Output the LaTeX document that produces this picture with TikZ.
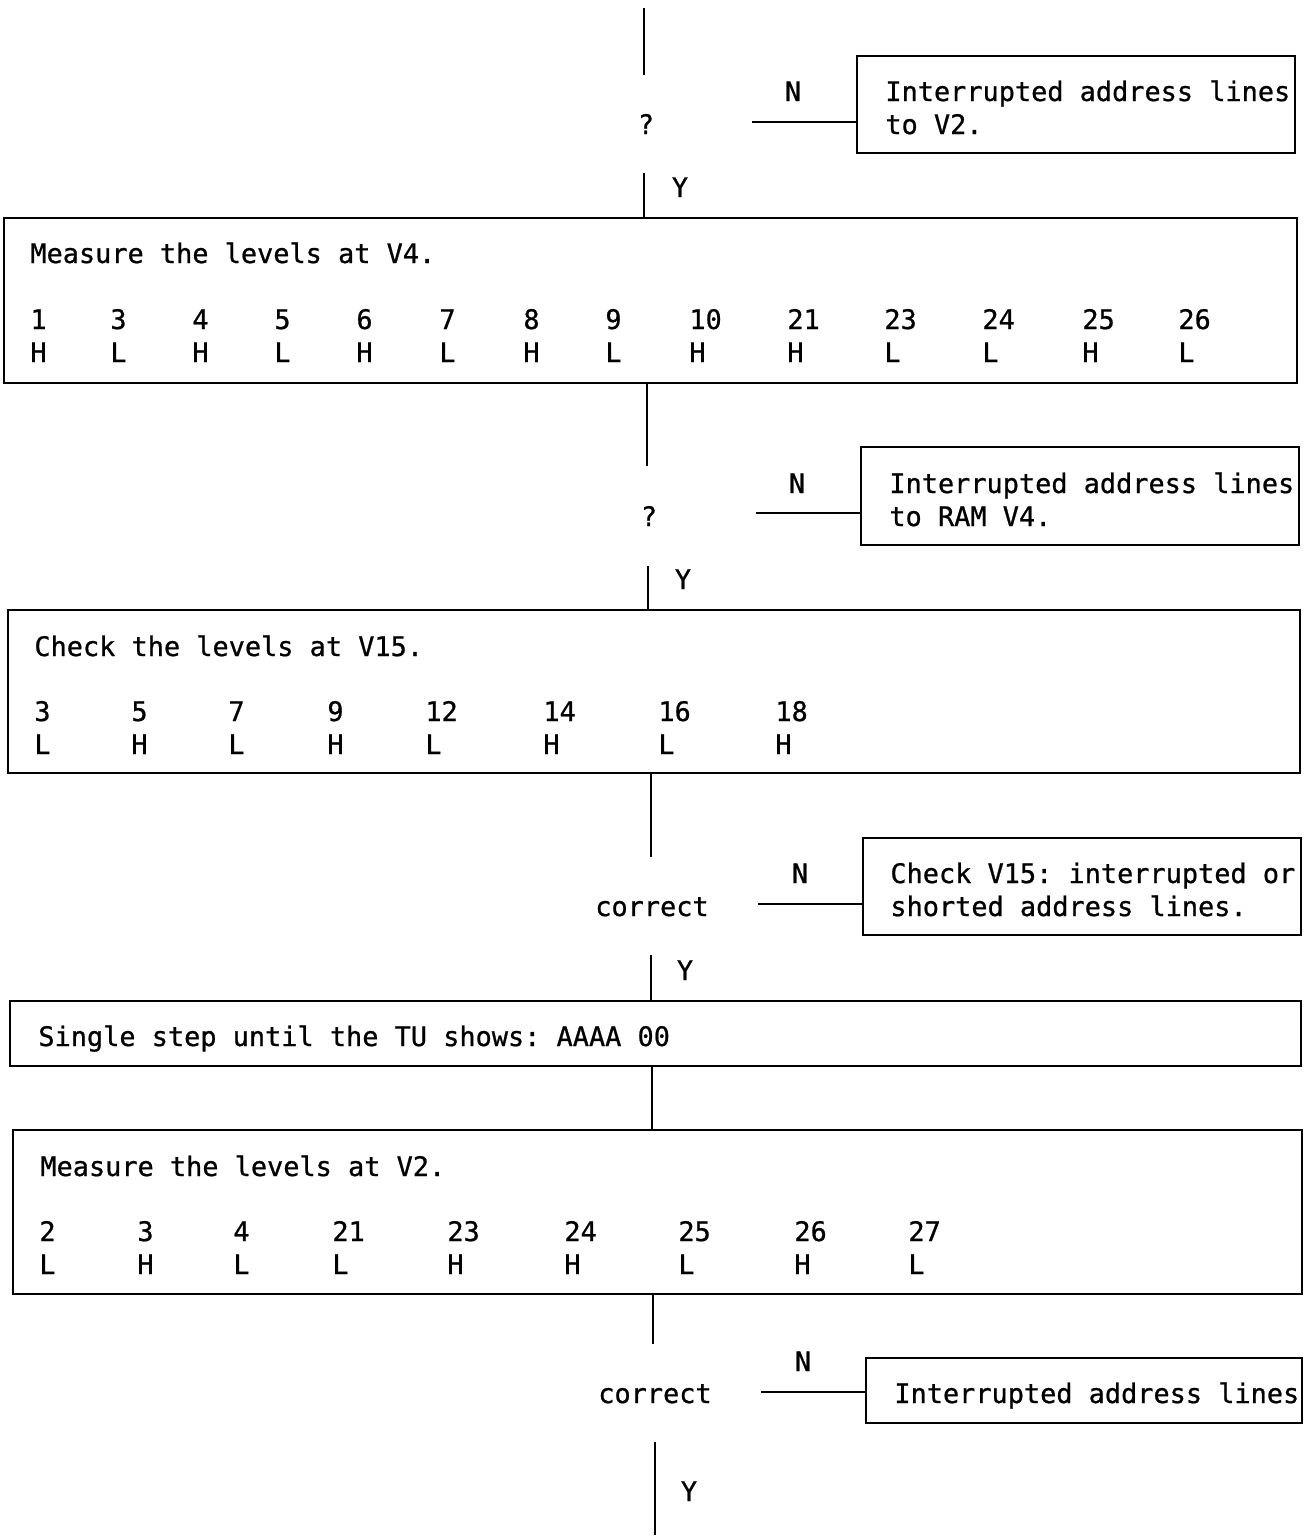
\documentclass[tikz,border=0pt]{standalone}
\usepackage{fontspec}
\setmonofont[FakeBold=0.8]{DejaVu Sans Mono}
\usetikzlibrary{fit}
\begin{document}
\begin{tikzpicture}[x=0.5pt,y=-0.5pt,
 box/.style={draw, line width=1.1pt, inner sep=0pt},
 txt/.style={inner sep=0pt, font=\ttfamily\fontsize{13.45}{16}\selectfont},
 lbl/.style={txt, anchor=base west},
 ctr/.style={txt, anchor=base},
 conn/.style={line width=1.1pt}]
\useasboundingbox (0,0) rectangle (1303,1537);

% ---------- boxes ----------
\node[box, fit={(857,56) (1295,153)}] (b1) {};
\node[box, fit={(4,218) (1297,383)}] (b2) {};
\node[box, fit={(861,447) (1299,545)}] (b3) {};
\node[box, fit={(8,610) (1300,773)}] (b4) {};
\node[box, fit={(863,838) (1301,935)}] (b5) {};
\node[box, fit={(10,1001) (1301,1066)}] (b6) {};
\node[box, fit={(13,1130) (1302,1294)}] (b7) {};
\node[box, fit={(866,1358) (1302,1423)}] (b8) {};

% ---------- texts in side boxes ----------
\node[lbl] (b1t1) at (885,101) {Interrupted address lines};
\node[lbl] (b1t2) at (885,134) {to V2.};
\node[lbl] (b3t1) at (889,493) {Interrupted address lines};
\node[lbl] (b3t2) at (889,526) {to RAM V4.};
\node[lbl] (b5t1) at (890,883) {Check V15: interrupted or};
\node[lbl] (b5t2) at (890,916) {shorted address lines.};
\node[lbl] (b8t1) at (894,1403) {Interrupted address lines};

% ---------- main boxes texts ----------
\node[lbl] (b2t) at (30,263) {Measure the levels at V4.};
\foreach \x/\n/\l [count=\i] in {30/1/H,110/3/L,192/4/H,274/5/L,356/6/H,439/7/L,523/8/H,605/9/L,689/10/H,787/21/H,884/23/L,982/24/L,1082/25/H,1178/26/L}{
  \node[lbl] (v4n\i) at (\x,329) {\n};
  \node[lbl] (v4l\i) at (\x,362) {\l};
}
\node[lbl] (b4t) at (34,656) {Check the levels at V15.};
\foreach \x/\n/\l [count=\i] in {34/3/L,131/5/H,228/7/L,327/9/H,425/12/L,543/14/H,658/16/L,775/18/H}{
  \node[lbl] (v15n\i) at (\x,721) {\n};
  \node[lbl] (v15l\i) at (\x,754) {\l};
}
\node[lbl] (b6t) at (38,1046) {Single step until the TU shows: AAAA 00};
\node[lbl] (b7t) at (40,1176) {Measure the levels at V2.};
\foreach \x/\n/\l [count=\i] in {39/2/L,137/3/H,233/4/L,332/21/L,447/23/H,564/24/H,678/25/L,794/26/H,908/27/L}{
  \node[lbl] (v2n\i) at (\x,1241) {\n};
  \node[lbl] (v2l\i) at (\x,1274) {\l};
}

% ---------- decisions ----------
\node[ctr] (d1) at (646,134) {?};
\node[ctr] (d2) at (649,526) {?};
\node[ctr] (d3) at (652,916) {correct};
\node[ctr] (d4) at (655,1403) {correct};

\node[ctr] (n1) at (793,101) {N};
\node[ctr] (n2) at (797,493) {N};
\node[ctr] (n3) at (800,883) {N};
\node[ctr] (n4) at (803,1371) {N};

\node[ctr] (y1) at (680,197) {Y};
\node[ctr] (y2) at (683,589) {Y};
\node[ctr] (y3) at (685,980) {Y};
\node[ctr] (y4) at (689,1501) {Y};

% ---------- coordinates ----------
\coordinate (top0) at (644,8);
\coordinate (top1) at (644,75);
\coordinate (nl1) at (752,122);
\coordinate (nl2) at (756,513);
\coordinate (nl3) at (758,904);
\coordinate (nl4) at (761,1392);
\coordinate (ys1) at (644,173);
\coordinate (ys2) at (648,566);
\coordinate (ys3) at (651,955);
\coordinate (ys4) at (655,1442);
\coordinate (ye4) at (655,1535);
\coordinate (a2) at (647,466);
\coordinate (a4) at (651,857);
\coordinate (a6) at (652,1066);
\coordinate (a7) at (653,1344);

% ---------- connectors ----------
\draw[conn] (top0) -- (top1);
\draw[conn] (nl1) -- (nl1 -| b1.west);
\draw[conn] (ys1) -- (ys1 |- b2.north);
\draw[conn] (a2 |- b2.south) -- (a2);
\draw[conn] (nl2) -- (nl2 -| b3.west);
\draw[conn] (ys2) -- (ys2 |- b4.north);
\draw[conn] (a4 |- b4.south) -- (a4);
\draw[conn] (nl3) -- (nl3 -| b5.west);
\draw[conn] (ys3) -- (ys3 |- b6.north);
\draw[conn] (a6 |- b6.south) -- (a6 |- b7.north);
\draw[conn] (a7 |- b7.south) -- (a7);
\draw[conn] (nl4) -- (nl4 -| b8.west);
\draw[conn] (ys4) -- (ye4);
\end{tikzpicture}
\end{document}
